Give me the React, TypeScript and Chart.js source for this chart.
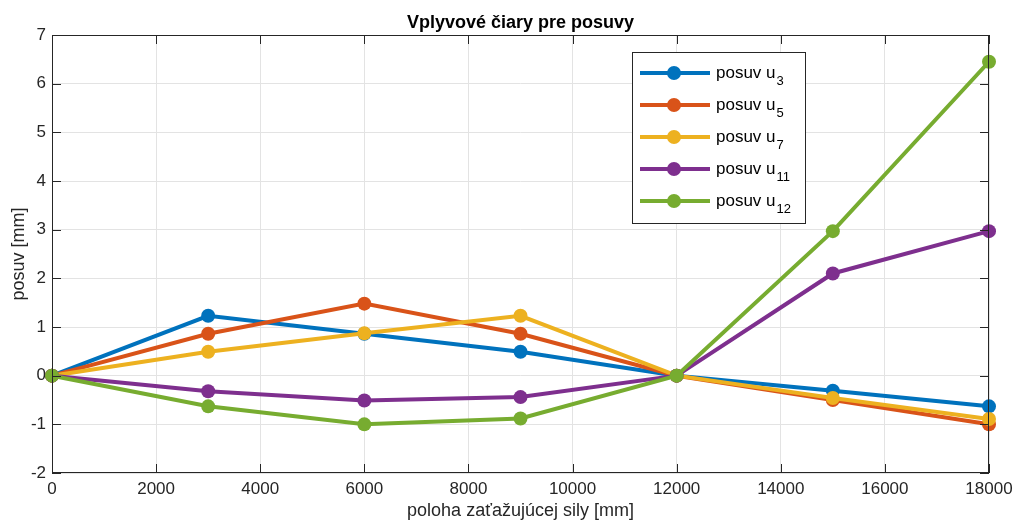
import React, { useEffect, useRef } from "react";
import { Chart, registerables } from "chart.js";

Chart.register(...registerables);

const xPositions = [0, 3000, 6000, 9000, 12000, 15000, 18000];
const seriesNames = ["3", "5", "7", "11", "12"];
const u3 = [0, 1.23, 0.86, 0.49, 0, -0.31, -0.63];
const u5 = [0, 0.86, 1.48, 0.86, 0, -0.5, -1.0];
const u7 = [0, 0.49, 0.87, 1.23, 0, -0.46, -0.89];
const u11 = [0, -0.32, -0.51, -0.44, 0, 2.1, 2.97];
const u12 = [0, -0.63, -1.0, -0.88, 0, 2.97, 6.45];
const seriesValues = [u3, u5, u7, u11, u12];
const colors = ["#0072BD", "#D95319", "#EDB120", "#7E2F8E", "#77AC30"];
const xTicks = [0, 2000, 4000, 6000, 8000, 10000, 12000, 14000, 16000, 18000];
const yTicks = [-2, -1, 0, 1, 2, 3, 4, 5, 6, 7];
const titleText = "Vplyvové čiary pre posuvy";
const xTitle = "poloha zaťažujúcej sily [mm]";
const yTitle = "posuv [mm]";

const FONT = "'Liberation Sans', Arial, Helvetica, sans-serif";

const framePlugin = {
  id: "matlabFrame",
  afterDraw(chart: any) {
    const ctx = chart.ctx;
    const a = chart.chartArea;
    const xs = chart.scales.x;
    const ys = chart.scales.y;
    ctx.save();
    // box
    ctx.strokeStyle = "#262626";
    ctx.lineWidth = 1;
    ctx.strokeRect(a.left + 0.5, a.top + 0.5, a.right - a.left - 1, a.bottom - a.top - 1);
    // ticks
    const tl = 9;
    ctx.beginPath();
    xTicks.forEach((v) => {
      const px = Math.round(xs.getPixelForValue(v)) + 0.5;
      ctx.moveTo(px, a.bottom);
      ctx.lineTo(px, a.bottom - tl);
      ctx.moveTo(px, a.top);
      ctx.lineTo(px, a.top + tl);
    });
    yTicks.forEach((v) => {
      const py = Math.round(ys.getPixelForValue(v)) + 0.5;
      ctx.moveTo(a.left, py);
      ctx.lineTo(a.left + tl, py);
      ctx.moveTo(a.right, py);
      ctx.lineTo(a.right - tl, py);
    });
    ctx.stroke();

    // title
    ctx.fillStyle = "#000000";
    ctx.font = `bold 18px ${FONT}`;
    ctx.textAlign = "center";
    ctx.textBaseline = "alphabetic";
    ctx.fillText(titleText, (a.left + a.right) / 2, 28);

    // axis titles
    ctx.fillStyle = "#262626";
    ctx.font = `18px ${FONT}`;
    ctx.textBaseline = "alphabetic";
    ctx.fillText(xTitle, (a.left + a.right) / 2, 516);
    ctx.save();
    ctx.translate(24, (a.top + a.bottom) / 2);
    ctx.rotate(-Math.PI / 2);
    ctx.fillText(yTitle, 0, 0);
    ctx.restore();

    // legend
    const lx = 632, ly = 52, lw = 173, lh = 171;
    ctx.fillStyle = "#ffffff";
    ctx.fillRect(lx, ly, lw, lh);
    ctx.strokeStyle = "#262626";
    ctx.lineWidth = 1;
    ctx.strokeRect(lx + 0.5, ly + 0.5, lw, lh);
    seriesNames.forEach((n, i) => {
      const cy = ly + 21 + i * 32;
      ctx.strokeStyle = colors[i];
      ctx.lineWidth = 4;
      ctx.beginPath();
      ctx.moveTo(640, cy);
      ctx.lineTo(710, cy);
      ctx.stroke();
      ctx.fillStyle = colors[i];
      ctx.beginPath();
      ctx.arc(674, cy, 7, 0, Math.PI * 2);
      ctx.fill();
      ctx.fillStyle = "#000000";
      ctx.font = `17px ${FONT}`;
      ctx.textAlign = "left";
      ctx.textBaseline = "alphabetic";
      const base = "posuv u";
      ctx.fillText(base, 716, cy + 5);
      const w = ctx.measureText(base).width;
      ctx.font = `13px ${FONT}`;
      ctx.fillText(n, 716 + w + 1, cy + 12);
    });
    ctx.restore();
  },
};

export default function App() {
  const ref = useRef<HTMLCanvasElement>(null);
  useEffect(() => {
    document.body.style.margin = "0";
    Chart.defaults.font.family = FONT;
    const datasets = seriesValues.map((vals, i) => ({
      label: "posuv u" + seriesNames[i],
      data: vals.map((v, j) => ({ x: xPositions[j], y: v })),
      borderColor: colors[i],
      backgroundColor: colors[i],
      borderWidth: 4,
      pointRadius: 7,
      pointBorderWidth: 0,
      pointBackgroundColor: colors[i],
      pointHoverRadius: 7,
      clip: false as any,
      order: seriesNames.length - i,
      tension: 0,
    }));
    const chart = new Chart(ref.current!, {
      type: "line",
      data: { datasets },
      plugins: [framePlugin],
      options: {
        animation: false,
        responsive: false,
        maintainAspectRatio: false,
        layout: { padding: { left: 0, top: 35, right: 30, bottom: 0 } },
        plugins: {
          legend: { display: false },
          title: { display: false },
          tooltip: { enabled: false },
        },
        scales: {
          x: {
            type: "linear",
            min: 0,
            max: 18000,
            afterFit: (s: any) => { s.height = 53; },
            afterBuildTicks: (s: any) => { s.ticks = xTicks.map((v) => ({ value: v })); },
            ticks: {
              color: "#262626",
              font: { size: 17, family: FONT },
              padding: 6,
              maxRotation: 0,
              autoSkip: false,
              callback: (v: any) => String(v),
            },
            grid: { color: "#e3e3e3", drawTicks: false, lineWidth: 1 },
            border: { display: false },
          },
          y: {
            type: "linear",
            min: -2,
            max: 7,
            afterFit: (s: any) => { s.width = 52; },
            afterBuildTicks: (s: any) => { s.ticks = yTicks.map((v) => ({ value: v })); },
            ticks: {
              color: "#262626",
              font: { size: 17, family: FONT },
              padding: 6,
              autoSkip: false,
              callback: (v: any) => String(v),
            },
            grid: { color: "#e3e3e3", drawTicks: false, lineWidth: 1 },
            border: { display: false },
          },
        },
      },
    });
    return () => chart.destroy();
  }, []);
  return (
    <div style={{ position: "absolute", left: 0, top: 0, width: 1019, height: 526, background: "#ffffff" }}>
      <canvas ref={ref} width={1019} height={526} style={{ display: "block" }} />
    </div>
  );
}
